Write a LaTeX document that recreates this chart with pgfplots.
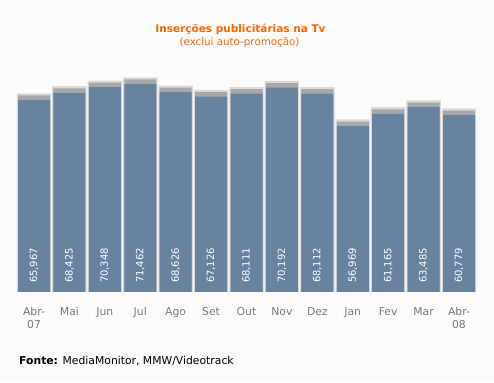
\documentclass[border=0pt]{standalone}
\usepackage{pgfplots}
\pgfplotsset{compat=1.18}
\usepackage{pgfplotstable}
\usepackage{fontspec}
\setmainfont{DejaVu Sans}
\definecolor{bg}{HTML}{FBFBFB}
\definecolor{barblue}{HTML}{6883A0}
\definecolor{capgrey}{HTML}{A8A8A8}
\definecolor{halo}{HTML}{DADADA}
\definecolor{ttl}{HTML}{FF6600}
\definecolor{ticktxt}{HTML}{7A7A7A}
\pgfplotstableread{
x v lab
0 65967 65,967
1 68425 68,425
2 70348 70,348
3 71462 71,462
4 68626 68,626
5 67126 67,126
6 68111 68,111
7 70192 70,192
8 68112 68,112
9 56969 56,969
10 61165 61,165
11 63485 63,485
12 60779 60,779
}\data
\begin{document}
\begin{tikzpicture}[x=1pt,y=1pt]
\fill[bg] (0,0) rectangle (494,382);
\begin{axis}[
  at={(16.3pt,90pt)}, anchor=south west,
  scale only axis, width=460.4pt, height=232.9pt,
  xmin=-0.5, xmax=12.5, ymin=0, ymax=80000,
  axis line style={draw=none}, tick style={draw=none},
  ytick=\empty,
  xtick=data,
  xticklabels={{Abr-\\07},Mai,Jun,Jul,Ago,Set,Out,Nov,Dez,Jan,Fev,Mar,{Abr-\\08}},
  xticklabel style={align=center, text=ticktxt, font=\fontsize{10.8}{13}\selectfont, yshift=-12pt},
  clip=false,
]
\addplot[ybar, bar width=34.4pt, bar shift=0pt, fill=halo, draw=none] table[x=x, y expr=\thisrow{v}+2300] {\data};
\addplot[ybar, bar width=32pt, bar shift=0pt, fill=capgrey, draw=none] table[x=x, y expr=\thisrow{v}+1550] {\data};
\addplot[ybar, bar width=32pt, bar shift=0pt, fill=barblue, draw=none] table[x=x, y=v] {\data};
\addplot[only marks, mark=none, point meta=explicit symbolic, nodes near coords,
  nodes near coords style={rotate=90, anchor=west, text=white, font=\fontsize{10}{12}\selectfont}]
  table[x=x, y expr=0*\thisrow{v}+1900, meta=lab] {\data};
\end{axis}
\node[text=ttl, font=\fontsize{10.5}{12}\selectfont\bfseries] at (240.5,353) {Inserções publicitárias na Tv};
\node[text=ttl, font=\fontsize{10.3}{12}\selectfont] at (239.5,339) {(exclui auto-promoção)};
\node[anchor=west, font=\fontsize{10.8}{12}\selectfont, inner sep=0pt] at (19,21) {\textbf{Fonte:} MediaMonitor, MMW/Videotrack};
\end{tikzpicture}
\end{document}
